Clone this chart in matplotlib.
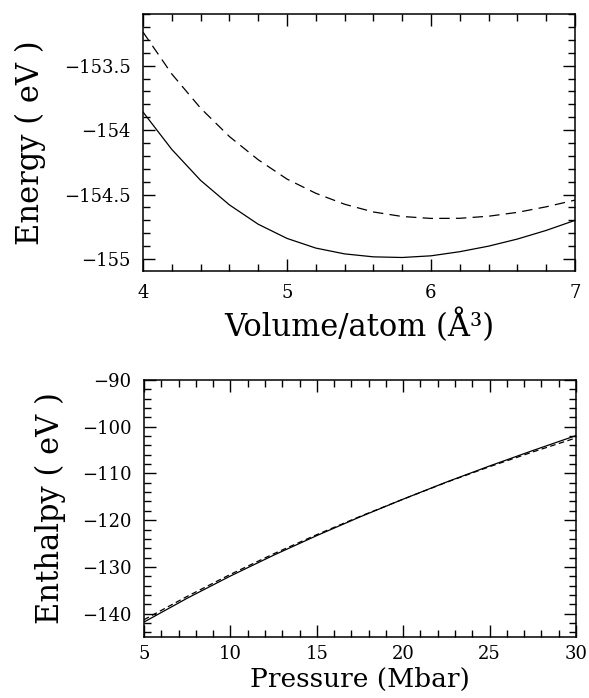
#!/usr/bin/env python3
"""
Energy vs volume and enthalpy vs pressure for two structures (two-panel figure).
"""

import matplotlib
matplotlib.use('Agg')
import matplotlib.pyplot as plt
from matplotlib.ticker import MultipleLocator

plt.rcParams['font.family'] = ['DejaVu Serif']
plt.rcParams['lines.scale_dashes'] = False

# Top panel: energy per atom vs volume/atom
volume = [4.0, 4.2, 4.4, 4.6, 4.8, 5.0, 5.2, 5.4, 5.6, 5.8, 6.0, 6.2, 6.4, 6.6, 6.8, 7.0]
energy_solid = [-153.86, -154.15, -154.39, -154.58, -154.73, -154.84, -154.915,
                -154.96, -154.983, -154.988, -154.975, -154.943, -154.90, -154.845,
                -154.778, -154.70]
energy_dashed = [-153.24, -153.565, -153.83, -154.05, -154.23, -154.38, -154.49,
                 -154.575, -154.635, -154.67, -154.685, -154.684, -154.668, -154.638,
                 -154.595, -154.543]

# Bottom panel: enthalpy vs pressure
pressure = [5.0, 7.5, 10.0, 12.5, 15.0, 17.5, 20.0, 22.5, 25.0, 27.5, 30.0]
enthalpy_solid = [-141.8, -136.7, -131.95, -127.5, -123.3, -119.3, -115.5,
                  -111.85, -108.4, -105.1, -101.9]
enthalpy_dashed = [-141.3, -136.3, -131.6, -127.2, -123.1, -119.2, -115.5,
                   -111.9, -108.55, -105.4, -102.4]

LABEL_SIZE = 22
TICK_SIZE = 13


def style_axes(ax):
    ax.tick_params(which='both', direction='in', top=True, right=True,
                   labelsize=TICK_SIZE, width=1.0)
    ax.tick_params(which='major', length=8.5, pad=9)
    ax.tick_params(which='minor', length=5)
    for sp in ax.spines.values():
        sp.set_linewidth(1.1)


def main():
    fig = plt.figure(figsize=(5.89, 6.98), dpi=100)

    # 1) Energy vs volume
    ax1 = fig.add_axes([0.2428, 0.6117, 0.7334, 0.3682])
    ax1.plot(volume, energy_solid, color='black', lw=0.9)
    ax1.plot(volume, energy_dashed, color='black', lw=0.9, dashes=(7.5, 4.5))
    ax1.set_xlim(4, 7)
    ax1.set_ylim(-155.093, -153.1)
    ax1.xaxis.set_major_locator(MultipleLocator(1))
    ax1.xaxis.set_minor_locator(MultipleLocator(0.2))
    ax1.yaxis.set_minor_locator(MultipleLocator(0.1))
    ax1.set_yticks([-155, -154.5, -154, -153.5])
    ax1.set_yticklabels(['\u2212155', '\u2212154.5', '\u2212154', '\u2212153.5'])
    style_axes(ax1)
    ax1.set_xlabel('Volume/atom (\u00c5\u00b3)', fontsize=LABEL_SIZE)
    ax1.set_ylabel('Energy ( eV )', fontsize=LABEL_SIZE)
    ax1.xaxis.set_label_coords(0.5, -0.145)
    ax1.yaxis.set_label_coords(-0.225, 0.5)

    # 2) Enthalpy vs pressure
    ax2 = fig.add_axes([0.2445, 0.0874, 0.7334, 0.3682])
    ax2.plot(pressure, enthalpy_solid, color='black', lw=0.9)
    ax2.plot(pressure, enthalpy_dashed, color='black', lw=0.9, dashes=(4, 2.5))
    ax2.set_xlim(5, 30)
    ax2.set_ylim(-145, -90)
    ax2.xaxis.set_major_locator(MultipleLocator(5))
    ax2.xaxis.set_minor_locator(MultipleLocator(1))
    ax2.yaxis.set_major_locator(MultipleLocator(10))
    ax2.yaxis.set_minor_locator(MultipleLocator(2))
    style_axes(ax2)
    ax2.tick_params(axis='x', which='major', pad=6)
    ax2.set_xlabel('Pressure (Mbar)', fontsize=19)
    ax2.set_ylabel('Enthalpy ( eV )', fontsize=LABEL_SIZE)
    ax2.xaxis.set_label_coords(0.5, -0.117)
    ax2.yaxis.set_label_coords(-0.18, 0.5)

    fig.savefig('out.png', dpi=100)


if __name__ == '__main__':
    main()
